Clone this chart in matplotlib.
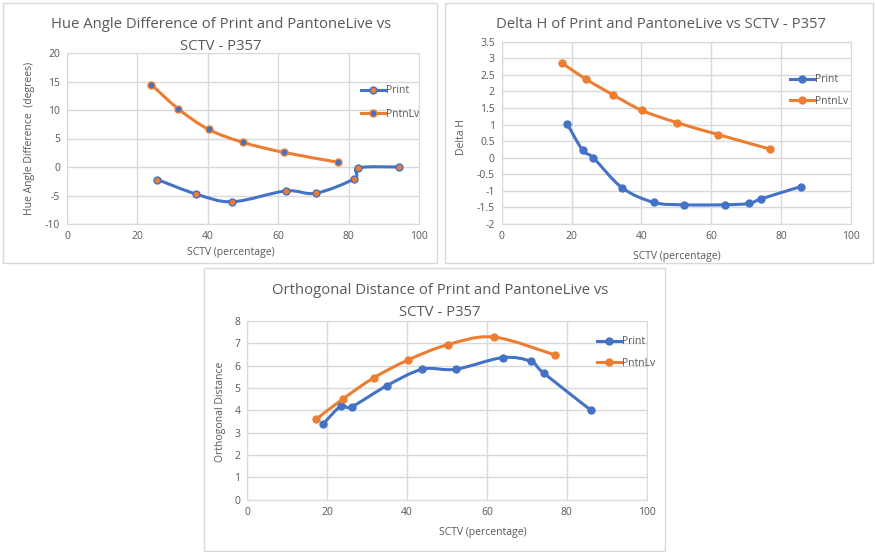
import numpy as np
import matplotlib
matplotlib.use("Agg")
from matplotlib import pyplot as plt
from matplotlib.path import Path
from matplotlib.patches import PathPatch, Rectangle
from matplotlib.lines import Line2D

# chart 1: hue angle difference
hue_print_x = [25.7, 36.7, 47.0, 62.1, 70.7, 81.6, 82.8, 94.4]
hue_print_y = [-2.2, -4.75, -6.1, -4.2, -4.6, -2.05, -0.15, 0.0]
hue_pntn_x = [24.0, 31.6, 40.2, 50.1, 61.7, 76.9]
hue_pntn_y = [14.45, 10.2, 6.6, 4.3, 2.55, 0.85]

# chart 2: delta H
dh_print_x = [18.7, 23.2, 26.2, 34.5, 43.6, 52.2, 63.9, 70.8, 74.3, 85.7]
dh_print_y = [1.03, 0.22, 0.0, -0.91, -1.35, -1.42, -1.42, -1.38, -1.24, -0.87]
dh_pntn_x = [17.2, 24.1, 31.8, 40.1, 50.1, 61.9, 76.8]
dh_pntn_y = [2.86, 2.37, 1.90, 1.43, 1.06, 0.70, 0.26]

# chart 3: orthogonal distance
od_print_x = [18.9, 23.5, 26.1, 34.9, 43.8, 52.2, 63.9, 71.0, 74.2, 86.0]
od_print_y = [3.37, 4.21, 4.16, 5.10, 5.84, 5.84, 6.36, 6.19, 5.67, 4.01]
od_pntn_x = [17.3, 24.0, 31.6, 40.2, 50.2, 61.7, 77.0]
od_pntn_y = [3.61, 4.52, 5.45, 6.25, 6.94, 7.28, 6.48]

BLUE = "#4472C4"
ORANGE = "#ED7D31"
GRID = "#d9d9d9"
TXT = "#595959"

plt.rcParams['font.family'] = ['Open Sans', 'DejaVu Sans']

W, H = 875, 552
fig = plt.figure(figsize=[W / 100, H / 100], dpi=100)


def px_axes(left, top, right, bottom):
    return fig.add_axes([left / W, 1 - bottom / H, (right - left) / W, (bottom - top) / H])


def smooth(ax, x, y, color):
    # excel style smoothed line (bezier through the points)
    p = np.column_stack([x, y])
    ext = np.vstack([p[0], p, p[-1]])
    verts = [p[0]]
    codes = [Path.MOVETO]
    for i in range(len(p) - 1):
        c1 = p[i] + (ext[i + 2] - ext[i]) / 6
        c2 = p[i + 1] - (ext[i + 3] - ext[i + 1]) / 6
        verts += [c1, c2, p[i + 1]]
        codes += [Path.CURVE4] * 3
    ax.add_patch(PathPatch(Path(verts, codes), fill=False, edgecolor=color, lw=2.2,
                           capstyle="round", joinstyle="round", zorder=3))


def style(ax, xlim, ylim, yticks):
    ax.set_xlim(*xlim)
    ax.set_ylim(*ylim)
    ax.set_xticks(np.arange(0, 101, 20))
    ax.set_yticks(yticks)
    ax.set_yticklabels([("%g" % v) for v in yticks])
    ax.grid(True, color=GRID, lw=1)
    for s in ax.spines.values():
        s.set_color(GRID)
    ax.tick_params(length=0, labelsize=7.5, labelcolor=TXT, pad=5)
    ax.set_axisbelow(True)


# chart borders
for (l, t, r, b) in [(3, 3, 437, 263), (445, 3, 873, 263), (204, 268, 665, 551)]:
    fig.patches.append(Rectangle((l / W, 1 - b / H), (r - l) / W, (b - t) / H,
                                 transform=fig.transFigure, fill=False,
                                 edgecolor=GRID, lw=1))

TS = 10.7

# ---- chart 1
ax1 = px_axes(67, 53, 419, 224)
style(ax1, (0, 100), (-10, 20), np.arange(-10, 21, 5))
smooth(ax1, hue_print_x, hue_print_y, BLUE)
smooth(ax1, hue_pntn_x, hue_pntn_y, ORANGE)
ax1.plot(hue_print_x, hue_print_y, "o", ms=5, mfc=ORANGE, mec=BLUE, mew=1, zorder=4)
ax1.plot(hue_pntn_x, hue_pntn_y, "o", ms=5, mfc=BLUE, mec=ORANGE, mew=1, zorder=4)
h1 = [Line2D([], [], color=BLUE, lw=2.2, marker="o", ms=5, mfc=ORANGE, mec=BLUE),
      Line2D([], [], color=ORANGE, lw=2.2, marker="o", ms=5, mfc=BLUE, mec=ORANGE)]
fig.legend(h1, ["Print", "PntnLv"], loc="upper left", bbox_to_anchor=(356 / W, 1 - 80 / H),
           frameon=False, fontsize=7.5, labelcolor=TXT, handlelength=2.3,
           handletextpad=0.1, labelspacing=1.2, borderpad=0)
fig.text(221 / W, 1 - 25 / H, "Hue Angle Difference of Print and PantoneLive vs",
         ha="center", va="center", fontsize=TS, color=TXT)
fig.text(221 / W, 1 - 46 / H, "SCTV - P357", ha="center", va="center", fontsize=TS, color=TXT)
fig.text(231 / W, 1 - 252 / H, "SCTV (percentage)", ha="center", va="center", fontsize=7.5, color=TXT)
fig.text(30 / W, 1 - 138 / H, "Hue Angle Difference  (degrees)", ha="center", va="center",
         rotation=90, fontsize=7.5, color=TXT)

# ---- chart 2
ax2 = px_axes(501.7, 41.7, 851, 224)
style(ax2, (0, 100), (-2, 3.5), np.arange(-2, 3.51, 0.5))
smooth(ax2, dh_print_x, dh_print_y, BLUE)
smooth(ax2, dh_pntn_x, dh_pntn_y, ORANGE)
ax2.plot(dh_print_x, dh_print_y, "o", ms=5, color=BLUE, zorder=4)
ax2.plot(dh_pntn_x, dh_pntn_y, "o", ms=5, color=ORANGE, zorder=4)
h2 = [Line2D([], [], color=BLUE, lw=2.2, marker="o", ms=5),
      Line2D([], [], color=ORANGE, lw=2.2, marker="o", ms=5)]
fig.legend(h2, ["Print", "PntnLv"], loc="upper left", bbox_to_anchor=(785 / W, 1 - 69 / H),
           frameon=False, fontsize=7.5, labelcolor=TXT, handlelength=2.3,
           handletextpad=0.1, labelspacing=1.0, borderpad=0)
fig.text(661 / W, 1 - 25 / H, "Delta H of Print and PantoneLive vs SCTV - P357",
         ha="center", va="center", fontsize=TS, color=TXT)
fig.text(677 / W, 1 - 257 / H, "SCTV (percentage)", ha="center", va="center", fontsize=7.5, color=TXT)
fig.text(462 / W, 1 - 137 / H, "Delta H", ha="center", va="center",
         rotation=90, fontsize=7.5, color=TXT)

# ---- chart 3
ax3 = px_axes(247.3, 321, 646.7, 499.7)
style(ax3, (0, 100), (0, 8), np.arange(0, 9, 1))
smooth(ax3, od_print_x, od_print_y, BLUE)
smooth(ax3, od_pntn_x, od_pntn_y, ORANGE)
ax3.plot(od_print_x, od_print_y, "o", ms=5, color=BLUE, zorder=4)
ax3.plot(od_pntn_x, od_pntn_y, "o", ms=5, color=ORANGE, zorder=4)
fig.legend(h2, ["Print", "PntnLv"], loc="upper left", bbox_to_anchor=(592 / W, 1 - 331 / H),
           frameon=False, fontsize=7.5, labelcolor=TXT, handlelength=2.3,
           handletextpad=0.1, labelspacing=1.0, borderpad=0)
fig.text(440 / W, 1 - 291 / H, "Orthogonal Distance of Print and PantoneLive vs",
         ha="center", va="center", fontsize=TS, color=TXT)
fig.text(440 / W, 1 - 312 / H, "SCTV - P357", ha="center", va="center", fontsize=TS, color=TXT)
fig.text(483 / W, 1 - 532 / H, "SCTV (percentage)", ha="center", va="center", fontsize=7.5, color=TXT)
fig.text(220 / W, 1 - 412 / H, "Orthogonal Distance", ha="center", va="center",
         rotation=90, fontsize=7.5, color=TXT)

fig.savefig("out.png", dpi=100)
